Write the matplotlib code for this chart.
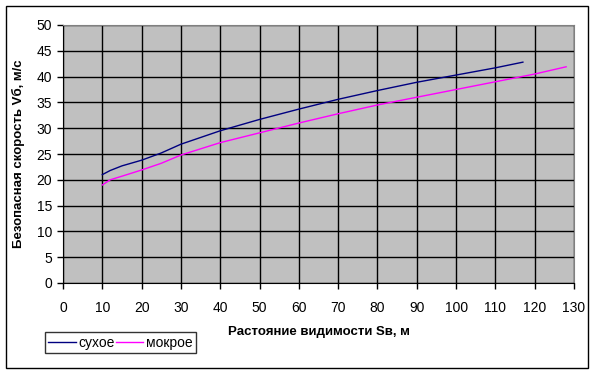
import matplotlib
matplotlib.use("Agg")
import matplotlib.pyplot as plt
from matplotlib.patches import Rectangle

plt.rcParams['font.family'] = ['Liberation Sans', 'DejaVu Sans']

dry_x = [10, 12, 15, 20, 25, 30, 40, 50, 60, 70, 80, 90, 100, 110, 117]
dry_y = [21.0, 21.8, 22.7, 23.8, 25.2, 26.9, 29.5, 31.7, 33.7, 35.6, 37.3, 38.9, 40.3, 41.7, 42.8]
wet_x = [10, 12, 15, 20, 25, 30, 40, 50, 60, 70, 80, 90, 100, 110, 120, 128]
wet_y = [19.0, 20.0, 20.7, 21.9, 23.2, 24.8, 27.2, 29.1, 31.0, 32.8, 34.5, 36.0, 37.5, 39.0, 40.5, 41.9]
x_ticks = list(range(0, 131, 10))
y_ticks = list(range(0, 51, 5))
xlabel = "Растояние видимости Sв, м"
ylabel = "Безопасная скорость Vб, м/с"
names = ["сухое", "мокрое"]

fig = plt.figure(figsize=(5.95, 3.73), dpi=100)
fig.patches.append(Rectangle((6/595, 5/373), 582/595, 362/373, transform=fig.transFigure,
                             fill=False, edgecolor='black', linewidth=1.0))
ax = fig.add_axes([63/595, 1 - 283/373, 511/595, 258/373])
ax.set_facecolor('#C0C0C0')
ax.plot(dry_x, dry_y, color='#000080', lw=1.0, label=names[0])
ax.plot(wet_x, wet_y, color='#FF00FF', lw=1.0, label=names[1])
ax.set_xlim(0, 130)
ax.set_ylim(0, 50)
ax.set_xticks(x_ticks)
ax.set_yticks(y_ticks)
ax.grid(True, color='black', lw=1.0)
ax.set_axisbelow(True)
for s in ['top', 'right']:
    ax.spines[s].set_color('#808080')
for s in ['left', 'bottom']:
    ax.spines[s].set_color('black')
ax.tick_params(axis='both', direction='out', length=4, width=1, labelsize=10, colors='black')
ax.tick_params(axis='x', pad=9)
ax.tick_params(axis='y', pad=4)
ax.set_xlabel(xlabel, fontsize=9.5, fontweight='bold', labelpad=8)
ax.set_ylabel(ylabel, fontsize=9.5, fontweight='bold', labelpad=8)
leg = ax.legend(loc='lower left', bbox_to_anchor=(45/595, 1 - 353/373, 151/595, 23/373),
                bbox_transform=fig.transFigure, ncol=2, frameon=True, fancybox=False,
                fontsize=10, handlelength=1.95, handletextpad=0.2, columnspacing=0.4,
                borderpad=0.25, mode='expand', borderaxespad=0)
leg.get_frame().set_edgecolor('black')
leg.get_frame().set_linewidth(1.0)
fig.savefig('out.png', dpi=100)
